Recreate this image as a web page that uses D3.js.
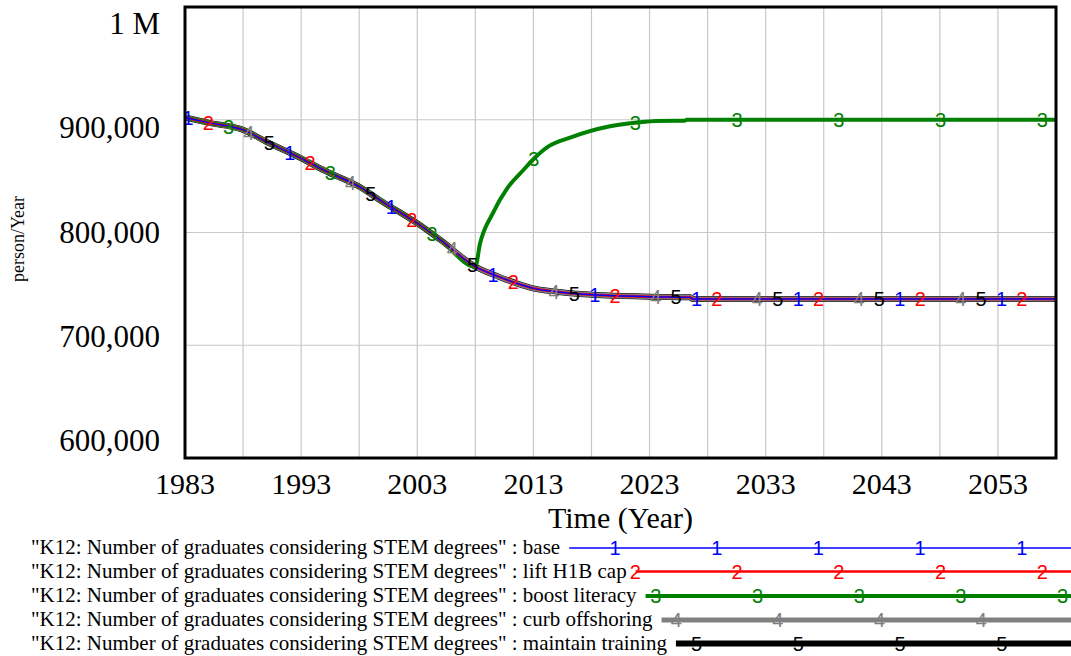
<!DOCTYPE html>
<html>
<head>
<meta charset="utf-8">
<script src="https://cdn.jsdelivr.net/npm/d3@7"></script>
<style>
  body { margin: 0; background: #fff; }
  svg { display: block; }
  .tick text, .tickLabel { font-family: "Liberation Serif", "Times New Roman", serif; }
</style>
</head>
<body>
<div id="chart"></div>
<script>

// DATA

const baseYears  = [1983, 1985, 1988, 1990, 1993, 1995, 1998, 2000, 2003, 2005, 2008, 2010, 2012, 2013, 2015, 2017, 2019, 2023, 2026.5, 2026.7, 2058];
const baseValues = [902000, 897400, 891000, 880500, 865800, 855000, 840600, 827300, 808200, 793400, 769700, 760800, 753400, 750500, 747500, 745500, 744300, 743000, 742500, 741000, 741000];

// boost literacy leaves the base run in 2008
const literacyYears  = [2008, 2008.4, 2009.5, 2010.8, 2012.1, 2013, 2014.4, 2016.1, 2019.5, 2021.9, 2023.6, 2026, 2026.2, 2058];
const literacyValues = [769700, 790000, 817000, 840000, 855000, 865000, 877000, 884000, 894000, 897500, 899000, 899200, 900000, 900000];

const scenarioNames = ["base", "lift H1B cap", "boost literacy", "curb offshoring", "maintain training"];
const scenarioColors = ["#0000FF", "#FF0000", "#008000", "#808080", "#000000"];
const scenarioWidths = [1.4, 2.5, 4, 5, 6];

const yTicks = [600000, 700000, 800000, 900000, 1000000];
const yTickLabels = ["600,000", "700,000", "800,000", "900,000", "1 M"];
const xTicks = [1983, 1993, 2003, 2013, 2023, 2033, 2043, 2053];

// MAKE SVG CANVAS

const width = 1071;
const height = 656;
const margin = {top: 7, left: 185, right: 15, bottom: 198};

const svg = d3.select("#chart")
    .append("svg")
    .attr("width", width)
    .attr("height", height);

// SERIES

function toPoints(years, values) {
    return years.map(function(d, i) { return {year: d, value: values[i]}; });
}

const basePoints = toPoints(baseYears, baseValues);
const literacyPoints = basePoints.filter(function(d) { return d.year < literacyYears[0]; })
    .concat(toPoints(literacyYears, literacyValues));

const series = scenarioNames.map(function(name, i) {
    return {
        id: i + 1,
        name: name,
        color: scenarioColors[i],
        width: scenarioWidths[i],
        points: i == 2 ? literacyPoints : basePoints
    };
});

// SCALES

const xScale = d3.scaleLinear()
    .domain([1983, 2058])
    .range([margin.left, width - margin.right]);

const yScale = d3.scaleLinear()
    .domain([600000, 1000000])
    .range([height - margin.bottom, margin.top]);

// GRID

const grid = svg.append("g");

grid.selectAll(".vgrid")
    .data(d3.range(1988, 2058, 5))
    .enter()
    .append("line")
        .attr("x1", function(d) { return xScale(d); })
        .attr("x2", function(d) { return xScale(d); })
        .attr("y1", yScale(1000000))
        .attr("y2", yScale(600000))
        .attr("stroke", "#c8c8c8")
        .attr("stroke-width", 1.2);

grid.selectAll(".hgrid")
    .data(yTicks.slice(1, 4))
    .enter()
    .append("line")
        .attr("x1", xScale(1983))
        .attr("x2", xScale(2058))
        .attr("y1", function(d) { return yScale(d); })
        .attr("y2", function(d) { return yScale(d); })
        .attr("stroke", "#c8c8c8")
        .attr("stroke-width", 1.2);

// LINES (drawn 5 first, so 1 ends up on top)

const line = d3.line()
    .x(function(d) { return xScale(d.year); })
    .y(function(d) { return yScale(d.value); })
    .curve(d3.curveMonotoneX);

const plot = svg.append("g");

plot.selectAll("path")
    .data(series.slice().reverse())
    .enter()
    .append("path")
        .attr("d", function(d) { return line(d.points); })
        .attr("fill", "none")
        .attr("stroke", function(d) { return d.color; })
        .attr("stroke-width", function(d) { return d.width; })
        .attr("stroke-linejoin", "round");

// NUMBER MARKERS ON THE LINES

function valueAt(points, year) {
    const i = d3.bisector(function(d) { return d.year; }).right(points, year);
    if (i <= 0) return points[0].value;
    if (i >= points.length) return points[points.length - 1].value;
    const a = points[i - 1], b = points[i];
    return a.value + (b.value - a.value) * (year - a.year) / (b.year - a.year);
}

const markerStep = 101.7;
const markerShift = 20.3;

series.slice().reverse().forEach(function(s) {
    const xs = d3.range(margin.left + 3 + (s.id - 1) * markerShift, width - margin.right, markerStep);
    plot.selectAll(".m" + s.id)
        .data(xs)
        .enter()
        .append("text")
            .attr("x", function(d) { return d; })
            .attr("y", function(d) { return yScale(valueAt(s.points, xScale.invert(d))); })
            .attr("dy", "0.36em")
            .attr("text-anchor", "middle")
            .attr("font-family", "Liberation Sans, Arial, sans-serif")
            .attr("font-size", 20)
            .attr("fill", s.color)
            .text(s.id);
});

// FRAME

svg.append("rect")
    .attr("x", xScale(1983))
    .attr("y", yScale(1000000))
    .attr("width", xScale(2058) - xScale(1983))
    .attr("height", yScale(600000) - yScale(1000000))
    .attr("fill", "none")
    .attr("stroke", "#000")
    .attr("stroke-width", 3);

// AXIS LABELS

svg.selectAll(".ylab")
    .data(yTicks)
    .enter()
    .append("text")
        .attr("class", "tickLabel")
        .attr("x", 160)
        .attr("y", function(d, i) { return yScale(d) - 17 + 8.5 * i + 10; })
        .attr("text-anchor", "end")
        .attr("font-size", 31)
        .text(function(d, i) { return yTickLabels[i]; });

svg.selectAll(".xlab")
    .data(xTicks)
    .enter()
    .append("text")
        .attr("class", "tickLabel")
        .attr("x", function(d) { return xScale(d); })
        .attr("y", 494)
        .attr("text-anchor", "middle")
        .attr("font-size", 30)
        .text(function(d) { return d; });

svg.append("text")
    .attr("class", "tickLabel")
    .attr("x", (xScale(1983) + xScale(2058)) / 2)
    .attr("y", 528)
    .attr("text-anchor", "middle")
    .attr("font-size", 30)
    .text("Time (Year)");

svg.append("text")
    .attr("class", "tickLabel")
    .attr("transform", "rotate(-90)")
    .attr("x", -239)
    .attr("y", 24)
    .attr("text-anchor", "middle")
    .attr("font-size", 18)
    .text("person/Year");

// LEGEND

const legendY = [548, 571.5, 596, 620, 643.5];

series.forEach(function(s, i) {
    const row = svg.append("g");
    const label = row.append("text")
        .attr("class", "tickLabel")
        .attr("x", 31)
        .attr("y", legendY[i] + 6)
        .attr("font-size", 21)
        .text("\"K12: Number of graduates considering STEM degrees\" : " + s.name);
    const start = 31 + label.node().getComputedTextLength() + 9;

    row.append("line")
        .attr("x1", start)
        .attr("x2", width)
        .attr("y1", legendY[i])
        .attr("y2", legendY[i])
        .attr("stroke", s.color)
        .attr("stroke-width", s.width);

    row.selectAll(".lm")
        .data(d3.range(615 + i * 20.4, width - 5, markerStep))
        .enter()
        .append("text")
            .attr("x", function(d) { return d; })
            .attr("y", legendY[i])
            .attr("dy", "0.36em")
            .attr("text-anchor", "middle")
            .attr("font-family", "Liberation Sans, Arial, sans-serif")
            .attr("font-size", 20)
            .attr("fill", s.color)
            .text(s.id);
});

</script>
</body>
</html>
